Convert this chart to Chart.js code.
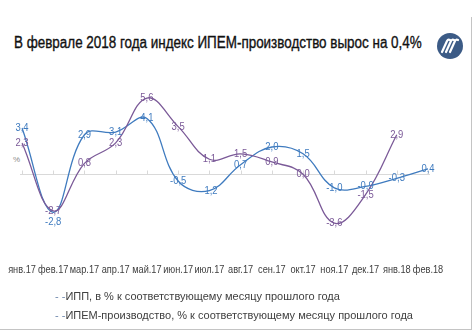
<!DOCTYPE html>
<html>
<head>
<meta charset="utf-8">
<script src="https://cdn.jsdelivr.net/npm/chart.js@4.4.1/dist/chart.umd.min.js"></script>
<style>
    body { margin: 0; background: #fff; }
    #wrap {
        position: relative;
        width: 475px;
        height: 332px;
        overflow: hidden;
        font-family: Arial, "Liberation Sans", sans-serif;
    }
    #frame {
        position: absolute;
        left: -2px;
        top: 17px;
        width: 473px;
        height: 312px;
        border-right: 1px solid #c4c4c4;
        border-bottom: 1px solid #c4c4c4;
    }
    #title {
        position: absolute;
        left: 14px;
        top: 34px;
        font-family: "Liberation Sans", Arial, sans-serif;
        font-size: 16px;
        color: #111;
        -webkit-text-stroke: 0.35px #111;
        white-space: nowrap;
        transform-origin: 0 0;
    }
    #logo { position: absolute; left: 436px; top: 32px; }
    #unit {
        position: absolute;
        left: 13px;
        top: 155px;
        font-size: 8px;
        color: #8c8c8c;
    }
    #chart { position: absolute; left: 0; top: 0; }
    .legend {
        position: absolute;
        left: 55px;
        font-size: 11px;
        color: #404040;
        white-space: nowrap;
    }
    .legend .key { color: #6f88ad; }
</style>
</head>
<body>
<div id="wrap">
    <div id="frame"></div>
    <div id="title">В феврале 2018 года индекс ИПЕМ-производство вырос на 0,4%</div>
    <svg id="logo" width="28" height="28" viewBox="0 0 28 28">
        <circle cx="14" cy="14" r="13" fill="#3c5b86"/>
        <g stroke="#fff" stroke-width="2.2" fill="none" stroke-linecap="round">
            <path d="M6 20 L11 9 Q12 7 14 8"/>
            <path d="M10 20 L15 9 Q16 7 18 8"/>
            <path d="M14 20 L19 9 Q20 7 22 8"/>
        </g>
    </svg>
    <div id="unit">%</div>
    <canvas id="chart" width="475" height="332"></canvas>
    <div class="legend" style="top: 290px;"><span class="key">- -</span>ИПП, в % к соответствующему месяцу прошлого года</div>
    <div class="legend" style="top: 309px;"><span class="key">- -</span>ИПЕМ-производство, % к соответствующему месяцу прошлого года</div>
</div>
<script>
const months = ['янв.17', 'фев.17', 'мар.17', 'апр.17', 'май.17', 'июн.17', 'июл.17',
                'авг.17', 'сен.17', 'окт.17', 'ноя.17', 'дек.17', 'янв.18', 'фев.18'];
const ippValues = [2.3, -2.7, 0.8, 2.3, 5.6, 3.5, 1.1, 1.5, 0.9, 0.0, -3.6, -1.5, 2.9, null];
const ipemValues = [3.4, -2.8, 2.9, 3.1, 4.1, -0.5, -1.2, 0.7, 2.0, 1.5, -1.0, -0.9, -0.3, 0.4];

const purple = '#7b5a98';
const blue = '#3f7bbf';

// squeeze the heading into a condensed look
const title = document.getElementById('title');
title.style.transform = 'scaleX(' + (408 / title.offsetWidth) + ')';

// a few labels are nudged so they don't sit on top of each other
const labelShift = { 1: { 1: 10 } };

// narrow text centred on a point
function narrowText(ctx, text, x, y, squeeze) {
    ctx.save();
    ctx.translate(x, y);
    ctx.scale(squeeze, 1);
    ctx.fillText(text, 0, 0);
    ctx.restore();
}

// grey zero line with small tick marks at each month, month names below the plot
const monthAxis = {
    id: 'monthAxis',
    beforeDatasetsDraw(chart) {
        const ctx = chart.ctx;
        const xs = chart.scales.x;
        const y0 = Math.round(chart.scales.y.getPixelForValue(0)) + 0.5;
        ctx.save();
        ctx.strokeStyle = '#d9d9d9';
        ctx.lineWidth = 1;
        ctx.beginPath();
        ctx.moveTo(chart.chartArea.left - 2, y0);
        ctx.lineTo(chart.chartArea.right + 2, y0);
        months.forEach((m, i) => {
            const x = Math.round(xs.getPixelForValue(i)) + 0.5;
            ctx.moveTo(x, y0);
            ctx.lineTo(x, y0 - 4);
        });
        ctx.stroke();

        ctx.fillStyle = '#404040';
        ctx.font = '10px Arial, "Liberation Sans", sans-serif';
        ctx.textAlign = 'center';
        ctx.textBaseline = 'middle';
        months.forEach((m, i) => {
            narrowText(ctx, m, xs.getPixelForValue(i), chart.chartArea.bottom + 21, 0.92);
        });
        ctx.restore();
    }
};

const pointLabels = {
    id: 'pointLabels',
    afterDatasetsDraw(chart) {
        const ctx = chart.ctx;
        ctx.save();
        ctx.font = '11px "Liberation Sans", Arial, sans-serif';
        ctx.textAlign = 'center';
        ctx.textBaseline = 'middle';
        chart.data.datasets.forEach((ds, di) => {
            const meta = chart.getDatasetMeta(di);
            ctx.fillStyle = ds.borderColor;
            meta.data.forEach((pt, i) => {
                const v = ds.data[i];
                if (v === null) return;
                const dy = (labelShift[di] && labelShift[di][i]) || 0;
                narrowText(ctx, v.toFixed(1).replace('.', ','), pt.x, pt.y + dy, 0.86);
            });
        });
        ctx.restore();
    }
};

new Chart(document.getElementById('chart'), {
    type: 'line',
    data: {
        labels: months,
        datasets: [{
            label: 'ИПП, в % к соответствующему месяцу прошлого года',
            data: ippValues,
            borderColor: purple,
            borderWidth: 1.3,
            tension: 0.4,
            pointRadius: 0
        }, {
            label: 'ИПЕМ-производство, % к соответствующему месяцу прошлого года',
            data: ipemValues,
            borderColor: blue,
            borderWidth: 1.3,
            tension: 0.4,
            pointRadius: 0
        }]
    },
    options: {
        responsive: false,
        animation: false,
        layout: { padding: { left: 22, right: 47, top: 79, bottom: 83 } },
        plugins: {
            legend: { display: false },
            tooltip: { enabled: false }
        },
        scales: {
            x: {
                display: false
            },
            y: {
                display: false,
                min: -5.5,
                max: 7
            }
        }
    },
    plugins: [monthAxis, pointLabels]
});
</script>
</body>
</html>
